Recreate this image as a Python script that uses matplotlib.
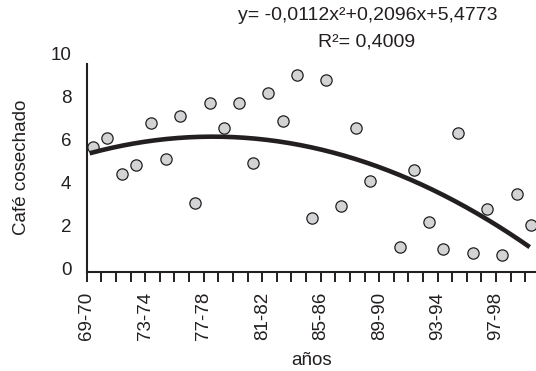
import numpy as np
import matplotlib
matplotlib.use("Agg")
import matplotlib.pyplot as plt

plt.rcParams['font.family'] = ['Liberation Sans', 'DejaVu Sans']

# cosechas 69-70 ... 99-00 (one slot per season, 89-90 has no value)
seasons = ["69-70", "70-71", "71-72", "72-73", "73-74", "74-75", "75-76", "76-77",
           "77-78", "78-79", "79-80", "80-81", "81-82", "82-83", "83-84", "84-85",
           "85-86", "86-87", "87-88", "88-89", "89-90", "90-91", "91-92", "92-93",
           "93-94", "94-95", "95-96", "96-97", "97-98", "98-99", "99-00"]
cafe = [5.64, 6.03, 4.37, 4.78, 6.73, 5.05, 7.07, 3.01, 7.66, 6.50,
        7.66, 4.90, 8.12, 6.85, 8.98, 2.34, 8.74, 2.87, 6.51, 4.03,
        np.nan, 0.96, 4.56, 2.14, 0.87, 6.29, 0.70, 2.76, 0.60, 3.43, 2.01]
shown = ["69-70", "73-74", "77-78", "81-82", "85-86", "89-90", "93-94", "97-98"]
eq_text = "y= -0,0112x²+0,2096x+5,4773"
r2_text = "R²= 0,4009"

ink = '#231f20'

fig = plt.figure(figsize=(5.36, 3.71), dpi=100)
ax = fig.add_axes([0.1618, 0.266, 0.8382, 0.591])

y = np.array(cafe)
x = np.arange(len(y)) + 0.4
ok = ~np.isnan(y)

ax.scatter(x[ok], y[ok], s=66, facecolor='#d1d3d4', edgecolor=ink, linewidth=0.9, zorder=2, clip_on=False)

# quadratic trend of the data
fit = np.polyfit(x[ok], y[ok], 2)
xs = np.linspace(x[0] - 0.2, x[-1] - 0.1, 200)
ax.plot(xs, np.polyval(fit, xs), color=ink, lw=3.3, solid_capstyle='butt', zorder=3)

ax.set_xlim(0, 30.73)
ax.set_ylim(-0.2, 10)
ax.set_yticks([0, 2, 4, 6, 8, 10])
ax.set_xticks(np.arange(len(seasons)))
ax.set_xticklabels([s if s in shown else '' for s in seasons])

ax.tick_params(axis='x', direction='out', length=7, width=1.4, color=ink,
               labelrotation=90, labelsize=13.5, pad=7, labelcolor=ink)
ax.tick_params(axis='y', length=0, pad=11, labelsize=13.5, labelcolor=ink)

for side in ['top', 'right']:
    ax.spines[side].set_visible(False)
for side in ['left', 'bottom']:
    ax.spines[side].set_linewidth(1.5)
    ax.spines[side].set_color(ink)
ax.spines['left'].set_bounds(-0.2, 9.5)

ax.set_xlabel('años', fontsize=13.5, color=ink)
ax.xaxis.set_label_coords(0.5, -0.40)
ax.xaxis.label.set_va('center')
ax.set_ylabel('Café cosechado', fontsize=13.5, color=ink)
ax.yaxis.set_label_coords(-0.1455, 0.48)
ax.yaxis.label.set_va('center')

fig.text(368 / 536, 1 - 15 / 371, eq_text, ha='center', va='center', fontsize=14, color=ink)
fig.text(367 / 536, 1 - 42 / 371, r2_text, ha='center', va='center', fontsize=14, color=ink)

fig.savefig('out.png', dpi=100)
